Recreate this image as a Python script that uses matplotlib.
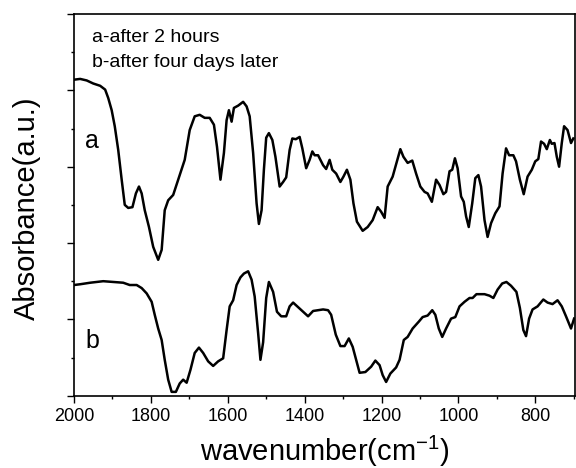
import matplotlib

matplotlib.use("Agg")
import matplotlib.pyplot as plt
from matplotlib.ticker import MultipleLocator, NullFormatter

# 曲线 a：2 小时后（波数 cm^-1，吸光度任意单位）
wn_a = [2000, 1984, 1967, 1950, 1932, 1919, 1911, 1902, 1894, 1885, 1876, 1868,
        1859, 1848, 1839, 1831, 1824, 1816, 1805, 1794, 1781, 1772, 1764, 1755,
        1742, 1729, 1712, 1699, 1686, 1673, 1660, 1647, 1636, 1628, 1619, 1610,
        1603, 1597, 1590, 1584, 1573, 1560, 1551, 1543, 1534, 1525, 1519, 1512,
        1506, 1500, 1493, 1484, 1476, 1465, 1456, 1448, 1439, 1432, 1423, 1413,
        1406, 1396, 1387, 1380, 1374, 1365, 1352, 1344, 1335, 1328, 1318, 1307,
        1299, 1290, 1281, 1273, 1264, 1249, 1236, 1223, 1210, 1201, 1192, 1184,
        1171, 1160, 1151, 1143, 1132, 1120, 1110, 1099, 1088, 1080, 1069, 1058,
        1049, 1039, 1032, 1023, 1016, 1009, 1002, 993, 986, 980, 973, 964, 956,
        948, 941, 932, 924, 915, 904, 893, 885, 876, 868, 857, 850, 840, 830,
        820, 809, 800, 792, 785, 777, 770, 762, 757, 750, 744, 738, 731, 725,
        716, 707, 701]
abs_a = [4.14, 4.15, 4.13, 4.09, 4.06, 4.01, 3.90, 3.74, 3.53, 3.22, 2.83, 2.50,
         2.46, 2.47, 2.65, 2.74, 2.65, 2.43, 2.21, 1.95, 1.78, 1.91, 2.43, 2.56,
         2.63, 2.83, 3.09, 3.48, 3.66, 3.68, 3.64, 3.64, 3.55, 3.26, 2.83, 3.18,
         3.61, 3.74, 3.59, 3.77, 3.80, 3.85, 3.79, 3.66, 3.18, 2.52, 2.25, 2.43,
         2.96, 3.38, 3.44, 3.35, 3.13, 2.74, 2.80, 2.86, 3.22, 3.37, 3.36, 3.39,
         3.24, 2.98, 3.09, 3.20, 3.15, 3.15, 3.02, 2.97, 3.09, 2.96, 2.91, 2.80,
         2.87, 2.96, 2.83, 2.52, 2.28, 2.16, 2.21, 2.30, 2.47, 2.41, 2.33, 2.74,
         2.87, 3.07, 3.23, 3.13, 3.05, 3.08, 2.91, 2.74, 2.67, 2.65, 2.54, 2.83,
         2.76, 2.64, 2.67, 2.94, 2.96, 3.11, 2.98, 2.61, 2.54, 2.35, 2.21, 2.52,
         2.85, 2.89, 2.74, 2.30, 2.08, 2.26, 2.39, 2.48, 2.91, 3.24, 3.15, 3.15,
         3.07, 2.83, 2.64, 2.87, 2.96, 3.07, 3.10, 3.33, 3.30, 3.23, 3.35, 3.30,
         3.31, 3.13, 3.00, 3.31, 3.53, 3.48, 3.31, 3.37]

# 曲线 b：四天后
wn_b = [2000, 1984, 1958, 1924, 1898, 1872, 1855, 1837, 1824, 1811, 1798, 1790,
        1781, 1772, 1764, 1755, 1746, 1735, 1725, 1716, 1707, 1697, 1686, 1675,
        1664, 1651, 1638, 1625, 1612, 1603, 1595, 1586, 1577, 1567, 1558, 1547,
        1538, 1530, 1521, 1515, 1508, 1500, 1493, 1482, 1472, 1461, 1448, 1439,
        1430, 1417, 1404, 1391, 1378, 1365, 1352, 1339, 1331, 1319, 1307, 1296,
        1285, 1275, 1266, 1257, 1242, 1227, 1216, 1205, 1197, 1188, 1177, 1162,
        1153, 1142, 1132, 1119, 1103, 1093, 1080, 1068, 1060, 1051, 1042, 1032,
        1019, 1008, 997, 984, 971, 963, 953, 932, 919, 909, 898, 886, 875, 863,
        849, 840, 831, 824, 816, 807, 794, 779, 768, 755, 742, 731, 720, 707, 699]
abs_b = [1.45, 1.46, 1.48, 1.50, 1.49, 1.48, 1.45, 1.45, 1.41, 1.34, 1.23, 1.06,
         0.88, 0.73, 0.47, 0.21, 0.05, 0.05, 0.16, 0.21, 0.17, 0.34, 0.56, 0.63,
         0.56, 0.45, 0.39, 0.45, 0.49, 0.86, 1.17, 1.25, 1.45, 1.55, 1.60, 1.63,
         1.52, 1.30, 0.82, 0.47, 0.70, 1.28, 1.49, 1.36, 1.10, 1.04, 1.04, 1.17,
         1.22, 1.16, 1.10, 1.04, 1.11, 1.12, 1.13, 1.12, 1.06, 0.80, 0.65, 0.65,
         0.75, 0.64, 0.47, 0.30, 0.31, 0.38, 0.46, 0.40, 0.27, 0.18, 0.29, 0.37,
         0.47, 0.73, 0.77, 0.88, 0.97, 1.03, 1.05, 1.12, 1.06, 0.88, 0.77, 0.88,
         1.01, 1.03, 1.17, 1.23, 1.28, 1.28, 1.33, 1.33, 1.31, 1.28, 1.39, 1.47,
         1.49, 1.44, 1.36, 1.15, 0.86, 0.78, 1.01, 1.13, 1.17, 1.26, 1.22, 1.20,
         1.25, 1.17, 1.04, 0.88, 1.01]

x_ticks = [2000, 1800, 1600, 1400, 1200, 1000, 800]

plt.rcParams["font.family"] = ["Liberation Sans", "DejaVu Sans"]
plt.rcParams["mathtext.fontset"] = "custom"
plt.rcParams["mathtext.rm"] = "Liberation Sans"
plt.rcParams["mathtext.default"] = "regular"

fig = plt.figure(figsize=(5.76, 4.68), dpi=100)
ax = fig.add_axes([0.1285, 0.1545, 0.8695, 0.8155])

ax.plot(wn_a, abs_a, color="black", lw=1.8)
ax.plot(wn_b, abs_b, color="black", lw=1.8)

ax.set_xlim(2000, 697)
ax.set_ylim(0, 5)

ax.set_xticks(x_ticks)
ax.xaxis.set_minor_locator(MultipleLocator(100))
ax.yaxis.set_major_locator(MultipleLocator(1))
ax.yaxis.set_minor_locator(MultipleLocator(0.5))
ax.yaxis.set_major_formatter(NullFormatter())
ax.tick_params(which="major", direction="out", length=5, width=1, labelsize=13, pad=4)
ax.tick_params(which="minor", direction="out", length=2.5, width=1)
ax.tick_params(axis="y", which="both", labelleft=False)

for s in ax.spines.values():
    s.set_linewidth(1.2)

ax.text(1953, 4.69, "a-after 2 hours", fontsize=14, va="center", ha="left")
ax.text(1953, 4.36, "b-after four days later", fontsize=14, va="center", ha="left")
ax.text(1953, 3.34, "a", fontsize=18, va="center", ha="center")
ax.text(1951, 0.71, "b", fontsize=18, va="center", ha="center")

ax.set_xlabel("wavenumber(cm$^{-1}$)", fontsize=21)
ax.set_ylabel("Absorbance(a.u.)", fontsize=21)
ax.xaxis.set_label_coords(0.501, -0.1)
ax.yaxis.set_label_coords(-0.066, 0.492)

fig.savefig("out.png", dpi=100)
plt.close(fig)
